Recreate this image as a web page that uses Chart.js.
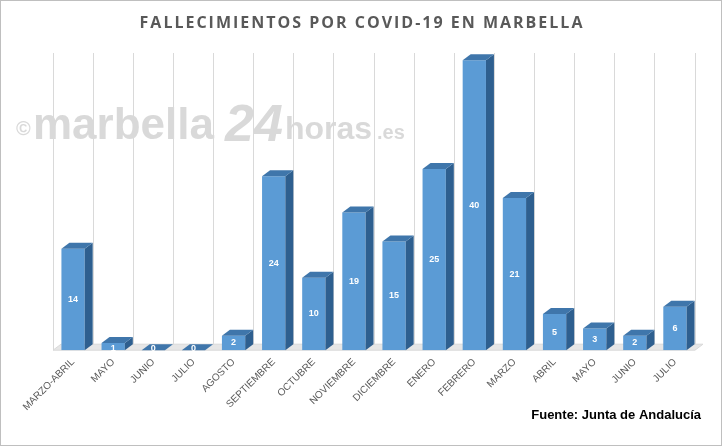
<!DOCTYPE html><html><head><script src="https://cdn.jsdelivr.net/npm/chart.js@4"></script>
<style>body{margin:0;background:#fff}#w{position:relative;width:720px;height:444px;border:1px solid #bfbfbf}</style></head><body>
<div id="w"><canvas id="c" width="720" height="444"></canvas></div>
<script>
const categories=["MARZO-ABRIL","MAYO","JUNIO","JULIO","AGOSTO","SEPTIEMBRE","OCTUBRE","NOVIEMBRE","DICIEMBRE","ENERO","FEBRERO","MARZO","ABRIL","MAYO","JUNIO","JULIO"];
const deaths=[14,1,0,0,2,24,10,19,15,25,40,21,5,3,2,6];
const titleText='FALLECIMIENTOS POR COVID-19 EN MARBELLA';
const DX=8,DY=6;
const bar3d={id:'bar3d',
beforeDatasetsDraw(ch){const c=ch.ctx,a=ch.chartArea,y0=ch.scales.y.getPixelForValue(0);
 c.save();c.fillStyle='#e6e6e6';c.beginPath();c.moveTo(a.left,y0);c.lineTo(a.left+DX,y0-DY);c.lineTo(a.right+DX,y0-DY);c.lineTo(a.right,y0);c.closePath();c.fill();
 c.strokeStyle='#d9d9d9';c.stroke();c.restore();},
afterDatasetsDraw(ch){const c=ch.ctx,m=ch.getDatasetMeta(0);c.save();
 m.data.forEach((b,i)=>{const l=b.x-b.width/2,r=b.x+b.width/2,t=b.y,bt=b.base;
  c.fillStyle='#2e5f8f';c.beginPath();c.moveTo(r,t);c.lineTo(r+DX,t-DY);c.lineTo(r+DX,bt-DY);c.lineTo(r,bt);c.closePath();c.fill();
  c.fillStyle='#3f76ab';c.beginPath();c.moveTo(l,t);c.lineTo(l+DX,t-DY);c.lineTo(r+DX,t-DY);c.lineTo(r,t);c.closePath();c.fill();
  c.fillStyle='#fff';c.font='bold 9px Arial, "Liberation Sans"';c.textAlign='center';c.textBaseline='middle';
  c.fillText(String(deaths[i]),b.x,deaths[i]<2?bt-2:(t+bt)/2);});
 c.restore();}};
const wm={id:'wm',beforeDraw(ch){const c=ch.ctx;c.save();c.fillStyle='rgba(185,185,185,0.55)';
 c.font='bold 20px "Liberation Sans"';c.fillText('©',15,134);
 c.font='bold 44px "Liberation Sans", Arial';c.fillText('marbella',32,138);
 c.font='italic bold 52px "Liberation Sans"';c.fillText('24',224,140);
 c.font='bold 32px "Liberation Sans"';c.fillText('horas',284,138);
 c.font='bold 20px "Liberation Sans"';c.fillText('.es',376,138);c.restore();
 c.save();c.fillStyle='#595959';c.font='bold 16px "Open Sans", "Liberation Sans"';c.textAlign='center';c.textBaseline='middle';
 if('letterSpacing' in c)c.letterSpacing='2px';c.fillText(titleText,361,22);c.restore();
 c.save();c.fillStyle='#000';c.font='bold 13px "Liberation Sans", Arial';c.textAlign='right';c.fillText('Fuente: Junta de Andalucía',700,418);c.restore();}};
new Chart(document.getElementById('c'),{type:'bar',
data:{labels:categories,datasets:[{data:deaths,backgroundColor:'#5b9bd5',barPercentage:0.58,categoryPercentage:1}]},
options:{responsive:false,animation:false,layout:{padding:{left:52,right:26,top:52,bottom:26}},
plugins:{legend:{display:false},tooltip:{enabled:false},title:{display:false}},
scales:{y:{min:0,max:41,display:false},
x:{grid:{display:true,color:'#d9d9d9',offset:true,drawTicks:false},border:{display:false},
ticks:{color:'#595959',font:{size:10,family:'"Liberation Sans", Arial'},maxRotation:45,minRotation:45,padding:6}}}},
plugins:[bar3d,wm]});
</script></body></html>
